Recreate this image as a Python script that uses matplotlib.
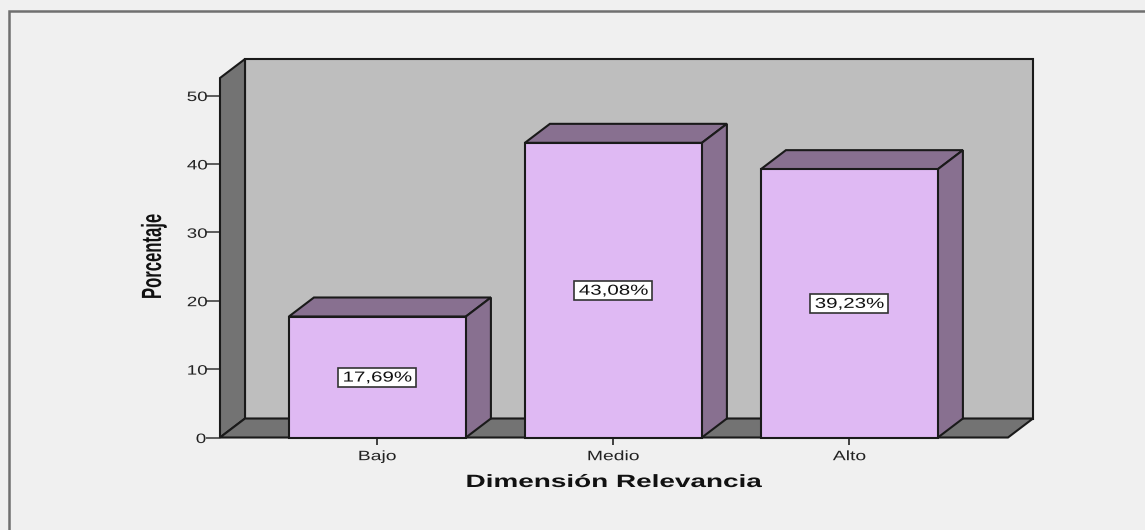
import matplotlib
matplotlib.use("Agg")
import matplotlib.pyplot as plt
from matplotlib.patches import Polygon, Rectangle
from matplotlib.patheffects import AbstractPathEffect
from matplotlib.transforms import Affine2D, ScaledTranslation

categories = ["Bajo", "Medio", "Alto"]
values = [17.69, 43.08, 39.23]
labels = ["17,69%", "43,08%", "39,23%"]
yticks = [0, 10, 20, 30, 40, 50]

W, H = 1145, 530
BG = "#f0f0f0"
WALL = "#bebebe"
SIDE = "#737373"
FRONT = "#dfb9f3"
DARK = "#887090"
EDGE = "#1a1a1a"

plt.rcParams["font.family"] = ["Liberation Sans", "DejaVu Sans"]


class Stretch(AbstractPathEffect):
    """Scale a drawn text about its own centre (the original font is a stretched one)."""

    def __init__(self, sx=1.0, sy=1.0):
        super().__init__()
        self.sx, self.sy = sx, sy

    def draw_path(self, renderer, gc, tpath, affine, rgbFace=None):
        e = tpath.get_extents(affine)
        cx, cy = (e.x0 + e.x1) / 2, (e.y0 + e.y1) / 2
        t = affine + Affine2D().translate(-cx, -cy).scale(self.sx, self.sy).translate(cx, cy)
        renderer.draw_path(gc, tpath, t, rgbFace)


fig = plt.figure(figsize=(W / 100, H / 100), dpi=100, facecolor=BG)

fig.add_artist(Rectangle((8.5 / W, -0.1), 1.2, 1 - 10.5 / H + 0.1,
                         transform=fig.transFigure, facecolor=BG,
                         edgecolor="#707070", linewidth=1.8, zorder=-5))

L, R, B, T = 220.0, 1008.0, 437.5, 78.0
ax = fig.add_axes([L / W, 1 - B / H, (R - L) / W, (B - T) / H])
ax.set_facecolor("none")
ymax = (B - T) / 6.84
ax.set_xlim(-0.667, 2.672)
ax.set_ylim(0, ymax)
for s in ax.spines.values():
    s.set_visible(False)

dx = 25 / 236
dy = 19 / 6.84
x0, x1 = ax.get_xlim()
lw = 1.5


def poly(pts, color, z):
    ax.add_patch(Polygon(pts, closed=True, facecolor=color, edgecolor=EDGE,
                         linewidth=lw, joinstyle="miter", zorder=z, clip_on=False))


poly([(x0 + dx, dy), (x1 + dx, dy), (x1 + dx, ymax + dy), (x0 + dx, ymax + dy)], WALL, 1)
poly([(x0, 0), (x0 + dx, dy), (x0 + dx, ymax + dy), (x0, ymax)], SIDE, 2)
poly([(x0, 0), (x1, 0), (x1 + dx, dy), (x0 + dx, dy)], SIDE, 2)

width = 0.75
for i, v in enumerate(values):
    a, b = i - width / 2, i + width / 2
    poly([(a, v), (b, v), (b + dx, v + dy), (a + dx, v + dy)], DARK, 3)
    poly([(b, 0), (b + dx, dy), (b + dx, v + dy), (b, v)], DARK, 3)
    poly([(a, 0), (b, 0), (b, v), (a, v)], FRONT, 4)
    # white label box of fixed size (inches) centred on the bar's middle
    ax.add_patch(Rectangle((-0.39, -0.095), 0.78, 0.19,
                           transform=fig.dpi_scale_trans + ScaledTranslation(i, v / 2, ax.transData),
                           facecolor="white", edgecolor="#333333", linewidth=1.2,
                           zorder=5, clip_on=False))
    ax.text(i, v / 2 - 0.08, labels[i], ha="center", va="center", fontsize=10.4, color="#111111", zorder=6,
            path_effects=[Stretch(sx=1.42)])

ax.set_xticks(range(len(categories)), categories)
ax.set_yticks(yticks)
ax.tick_params(axis="x", length=5, width=1.3, color="#333333", labelsize=9.8, labelcolor="#222222", pad=3.4)
ax.tick_params(axis="y", length=10, width=1.1, color="#333333", labelsize=9.8, labelcolor="#222222", pad=1)
for t in ax.get_xticklabels():
    t.set_path_effects([Stretch(sx=1.42)])
for t in ax.get_yticklabels():
    t.set_path_effects([Stretch(sx=1.38)])

fig.text(614 / W, 1 - 482.5 / H, "Dimensión Relevancia", fontsize=12.8, fontweight="bold",
         ha="center", va="center", color="#111111", path_effects=[Stretch(sx=1.57)])
fig.text(154 / W, 1 - 256.5 / H, "Porcentaje", fontsize=20, fontweight="bold", rotation=90,
         ha="center", va="center", color="#111111", path_effects=[Stretch(sy=0.6)])

fig.savefig("out.png", dpi=100, facecolor=BG)
